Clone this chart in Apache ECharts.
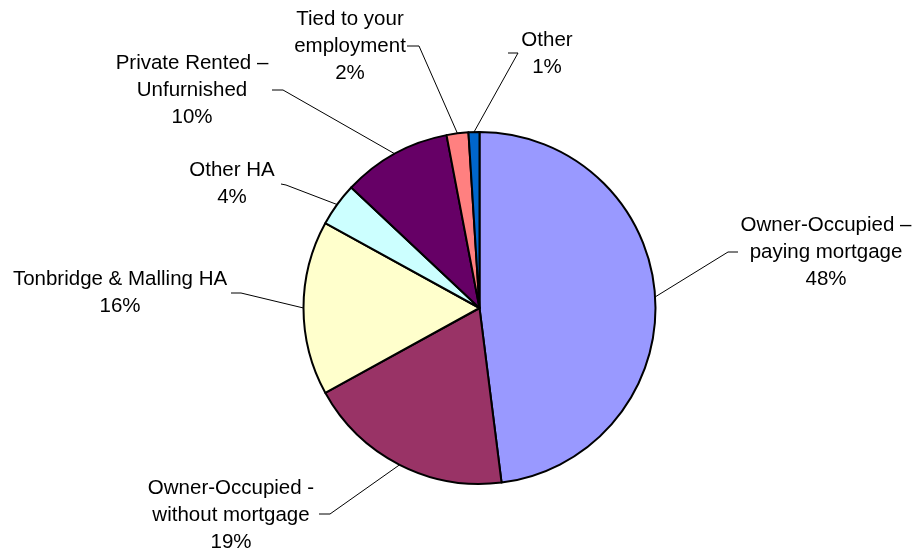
<!DOCTYPE html>
<html>
<head>
<meta charset="utf-8">
<script src="https://cdn.jsdelivr.net/npm/echarts@6/dist/echarts.min.js"></script>
<style>
  html, body { margin: 0; padding: 0; background: #fff; }
  #chart { width: 917px; height: 555px; }
</style>
</head>
<body>
<div id="chart"></div>
<script>
// Housing tenure shares (percent)
const categories = [
  'Owner-Occupied –\npaying mortgage',
  'Owner-Occupied -\nwithout mortgage',
  'Tonbridge & Malling HA',
  'Other HA',
  'Private Rented –\nUnfurnished',
  'Tied to your\nemployment',
  'Other'
];
const shares = [48, 19, 16, 4, 10, 2, 1];
const sliceColors = ['#9999FF', '#993366', '#FFFFCC', '#CCFFFF', '#660066', '#FF8080', '#0066CC'];

// Label placement: block centre, leader elbow and leader end next to the text
const labelSpots = [
  { x: 826, y: 252, elbow: [728, 252], end: [738, 252] },
  { x: 231, y: 515, elbow: [330, 514], end: [319, 514] },
  { x: 120, y: 293, elbow: [241, 293], end: [231, 293] },
  { x: 232, y: 184, elbow: [286, 185], end: [281, 184] },
  { x: 192, y: 90,  elbow: [283, 90],  end: [272, 90] },
  { x: 350, y: 46,  elbow: [419, 46],  end: [407, 46] },
  { x: 547, y: 54,  elbow: [518, 53],  end: [508, 53] }
];

const chart = echarts.init(document.getElementById('chart'), null, { renderer: 'canvas' });

chart.setOption({
  animation: false,
  backgroundColor: '#ffffff',
  textStyle: { fontFamily: '"Liberation Sans", Arial, sans-serif' },
  series: [{
    type: 'pie',
    center: [479.5, 308],
    radius: [0, 176],
    startAngle: 90,
    clockwise: true,
    avoidLabelOverlap: false,
    percentPrecision: 0,
    data: categories.map((name, i) => ({
      name: name,
      value: shares[i],
      itemStyle: { color: sliceColors[i] }
    })),
    itemStyle: { borderColor: '#000', borderWidth: 2 },
    label: {
      show: true,
      position: 'outside',
      formatter: '{b}\n{d}%',
      color: '#000',
      fontSize: 20.5,
      lineHeight: 27,
      align: 'center',
      fontFamily: '"Liberation Sans", Arial, sans-serif'
    },
    labelLine: {
      show: true,
      length: 20,
      length2: 10,
      lineStyle: { color: '#000', width: 1 }
    },
    emphasis: { disabled: true },
    labelLayout: function (params) {
      const s = labelSpots[params.dataIndex];
      const out = {
        x: s.x,
        y: s.y,
        align: 'center',
        verticalAlign: 'middle'
      };
      if (params.labelLinePoints) {
        out.labelLinePoints = [params.labelLinePoints[0], s.elbow, s.end];
      }
      return out;
    }
  }]
});
</script>
</body>
</html>
